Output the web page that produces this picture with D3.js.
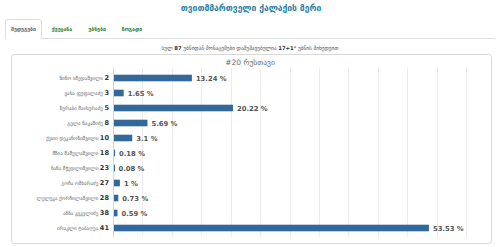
<!DOCTYPE html>
<html lang="ka">
<head>
<meta charset="UTF-8">
<title>თვითმმართველი ქალაქის მერი</title>
<script src="https://d3js.org/d3.v7.min.js"></script>
<style>
  body { margin: 0; background: #fff; font-family: "DejaVu Sans", sans-serif; }
  svg { display: block; }
</style>
</head>
<body>
<div id="chart"></div>
<script>
// data
const candidates = ["ნინო იმედაშვილი", "ვახა ფუფალაძე", "ზურაბი მაისურაძე", "გელა ნაკაშიძე",
  "ქეთი დეკანოზიშვილი", "მზია მამულაშვილი", "ნანა მჭედლიშვილი", "გოჩა ოშხარაძე",
  "ლელუკა ქორჩილაშვილი", "ანნა კეკელიძე", "ირაკლი ტაბაღუა"];
const numbers = [2, 3, 5, 8, 10, 18, 23, 27, 28, 38, 41];
const percents = [13.24, 1.65, 20.22, 5.69, 3.1, 0.18, 0.08, 1, 0.73, 0.59, 53.53];
const tabs = ["შედეგები", "ქვეყანა", "უბნები", "ზოგადი"];
const xTicks = [0, 5, 10, 15, 20, 25, 30, 35, 40, 45, 50, 55, 60];

const W = 500, H = 247;
const svg = d3.select("#chart").append("svg").attr("width", W).attr("height", H);

// header title
svg.append("text").attr("x", 251).attr("y", 11).attr("text-anchor", "middle")
  .style("font-size", "8.5px").style("fill", "#2a7fa6").style("font-weight", "bold")
  .text("თვითმმართველი ქალაქის მერი");

// tabs
svg.append("line").attr("x1", 5).attr("x2", 495).attr("y1", 38.5).attr("y2", 38.5)
  .attr("stroke", "#ddd");
svg.append("path").attr("d", "M5.5,38.5 V22 q0,-2.5 2.5,-2.5 H39 q2.5,0 2.5,2.5 V38.5")
  .attr("fill", "#fff").attr("stroke", "#ddd");
svg.append("line").attr("x1", 6).attr("x2", 41).attr("y1", 38.5).attr("y2", 38.5)
  .attr("stroke", "#fff");
const tabX = [23.5, 62, 97, 132];
tabs.forEach((t, i) => {
  svg.append("text").attr("x", tabX[i]).attr("y", 31).attr("text-anchor", "middle")
    .style("font-size", "5.2px").style("fill", i === 0 ? "#666" : "#2e7d32")
    .style("font-weight", "bold").text(t);
});

// summary line
const sum = svg.append("text").attr("x", 250).attr("y", 50).attr("text-anchor", "middle")
  .style("font-size", "5.3px").style("fill", "#555");
sum.append("tspan").text("სულ ");
sum.append("tspan").style("font-weight", "bold").style("fill", "#333").text("87");
sum.append("tspan").text(" უბნიდან მონაცემები დამუშავებულია ");
sum.append("tspan").style("font-weight", "bold").style("fill", "#333").text("17+1");
sum.append("tspan").style("fill", "#c00").text("*");
sum.append("tspan").text(" უბნის მიხედვით");

// panel
svg.append("rect").attr("x", 11.5).attr("y", 54.5).attr("width", 480).attr("height", 189)
  .attr("rx", 3).attr("fill", "#fff").attr("stroke", "#d8d8d8");

svg.append("text").attr("x", 250).attr("y", 65).attr("text-anchor", "middle")
  .style("font-size", "7.5px").style("fill", "#666").text("#20 რუსთავი");

// scales
const x = d3.scaleLinear().domain([0, 60]).range([113, 466]);
const y = d3.scaleBand().domain(numbers).range([70.5, 235.5]).paddingInner(0.56).paddingOuter(0.28);

// grid
svg.append("g").selectAll("line").data(xTicks.slice(1)).join("line")
  .attr("x1", d => Math.round(x(d)) + 0.5).attr("x2", d => Math.round(x(d)) + 0.5)
  .attr("y1", 68).attr("y2", 237).attr("stroke", "#ececec");
svg.append("line").attr("x1", 113.5).attr("x2", 113.5).attr("y1", 68).attr("y2", 237)
  .attr("stroke", "#ccd6eb");

// bars
svg.append("g").selectAll("rect").data(numbers).join("rect")
  .attr("x", x(0) + 1).attr("y", d => y(d))
  .attr("width", (d, i) => Math.max(1, x(percents[i]) - x(0)))
  .attr("height", y.bandwidth()).attr("fill", "#33699a");

// category labels
const labels = svg.append("g").selectAll("text").data(numbers).join("text")
  .attr("x", 109).attr("y", d => y(d) + y.bandwidth() / 2 + 2)
  .attr("text-anchor", "end").style("font-size", "5px").style("fill", "#666");
labels.append("tspan").text((d, i) => candidates[i] + " ");
labels.append("tspan").style("font-weight", "bold").style("font-size", "6.6px")
  .style("fill", "#333").text(d => d);

// value labels
svg.append("g").selectAll("text").data(numbers).join("text")
  .attr("x", (d, i) => x(percents[i]) + 5).attr("y", d => y(d) + y.bandwidth() / 2 + 2.5)
  .style("font-size", "6.8px").style("font-weight", "bold")
  .style("fill", "#555").text((d, i) => percents[i] + " %");
</script>
</body>
</html>
